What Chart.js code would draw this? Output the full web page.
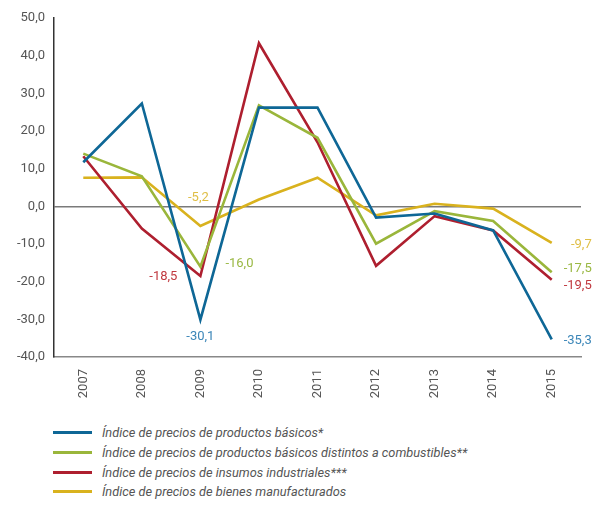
<!DOCTYPE html>
<html>
<head>
<meta charset="utf-8">
<script src="https://cdn.jsdelivr.net/npm/chart.js@4/dist/chart.umd.min.js"></script>
<style>
  body { margin: 0; background: #fff; }
  #wrap { position: relative; width: 602px; height: 400px; }
  #legend { position: absolute; left: 53px; top: 423px; font-family: Roboto, sans-serif; font-style: italic; font-size: 12.8px; color: #555; }
  #legend div { height: 19.7px; display: flex; align-items: center; }
  #legend span.sw { display: inline-block; width: 39px; height: 3px; margin-right: 10px; }
</style>
</head>
<body>
<div id="wrap"><canvas id="myChart"></canvas></div>
<div id="legend"></div>
<script>
var years = ['2007', '2008', '2009', '2010', '2011', '2012', '2013', '2014', '2015'];
var basicos = [11.7, 27.3, -30.1, 26.2, 26.2, -3.0, -1.9, -6.4, -35.3];
var noCombustibles = [14.0, 8.0, -16.0, 26.8, 18.2, -9.9, -1.3, -3.9, -17.5];
var insumos = [13.3, -5.9, -18.5, 43.3, 17.0, -15.8, -2.6, -6.4, -19.5];
var manufacturados = [7.6, 7.7, -5.2, 1.8, 7.6, -2.4, 0.7, -0.6, -9.7];
var yTicks = [50, 40, 30, 20, 10, 0, -10, -20, -30, -40];

var textColor = '#555';
var fontFamily = 'Roboto, sans-serif';

function fmt(v) {
    return v.toFixed(1).replace('.', ',');
}

// which points get a value label, and where it sits next to the point
var pointLabels = [
    { ds: 3, i: 2, dx: -2, dy: -28, align: 'center' },
    { ds: 2, i: 2, dx: -23, dy: 1, align: 'right' },
    { ds: 1, i: 2, dx: 25, dy: -3, align: 'left' },
    { ds: 0, i: 2, dx: 0, dy: 17, align: 'center' },
    { ds: 3, i: 8, dx: 40, dy: 2, align: 'right' },
    { ds: 1, i: 8, dx: 40, dy: -4, align: 'right' },
    { ds: 2, i: 8, dx: 40, dy: 6, align: 'right' },
    { ds: 0, i: 8, dx: 40, dy: 1, align: 'right' }
];

var labelPlugin = {
    id: 'pointLabels',
    afterDatasetsDraw: function (chart) {
        var c = chart.ctx;
        c.save();
        c.font = '13px ' + fontFamily;
        c.textBaseline = 'middle';
        pointLabels.forEach(function (l) {
            var ds = chart.data.datasets[l.ds];
            var pt = chart.getDatasetMeta(l.ds).data[l.i];
            c.fillStyle = ds.labelColor;
            c.textAlign = l.align;
            c.fillText(fmt(ds.data[l.i]), pt.x + l.dx, pt.y + l.dy);
        });
        c.restore();
    }
};

var ctx = document.getElementById('myChart');

var chart = new Chart(ctx, {
    type: 'line',
    data: {
        labels: years,
        datasets: [{
            label: 'Índice de precios de productos básicos*',
            data: basicos,
            borderColor: '#0e6796',
            labelColor: '#3b86b8'
        }, {
            label: 'Índice de precios de productos básicos distintos a combustibles**',
            data: noCombustibles,
            borderColor: '#9ab63b',
            labelColor: '#9ab843'
        }, {
            label: 'Índice de precios de insumos industriales***',
            data: insumos,
            borderColor: '#ae1f2f',
            labelColor: '#c0393f'
        }, {
            label: 'Índice de precios de bienes manufacturados',
            data: manufacturados,
            borderColor: '#d9b21e',
            labelColor: '#dfbe45'
        }]
    },
    options: {
        responsive: true,
        maintainAspectRatio: false,
        animation: false,
        layout: { padding: { top: 18, right: 21 } },
        elements: {
            line: { borderWidth: 2.6, tension: 0, fill: false },
            point: { radius: 0, hoverRadius: 0 }
        },
        scales: {
            x: {
                offset: true,
                grid: { display: false },
                border: { color: '#888', width: 1.5 },
                ticks: {
                    color: textColor,
                    font: { family: fontFamily, size: 13 },
                    maxRotation: 90,
                    minRotation: 90,
                    padding: 4
                },
                afterFit: function (scale) { scale.height = 43; }
            },
            y: {
                min: -40,
                max: 50,
                afterBuildTicks: function (scale) {
                    scale.ticks = yTicks.map(function (v) { return { value: v }; });
                },
                grid: {
                    drawTicks: false,
                    color: function (c) { return c.tick && c.tick.value === 0 ? '#7a7a7a' : 'rgba(0,0,0,0)'; },
                    lineWidth: 1.5
                },
                border: { color: '#333', width: 1.5 },
                ticks: {
                    color: textColor,
                    font: { family: fontFamily, size: 13 },
                    padding: 9,
                    callback: function (v) { return fmt(v); }
                },
                afterFit: function (scale) { scale.width = 54; }
            }
        },
        plugins: {
            legend: { display: false },
            tooltip: { enabled: false }
        }
    },
    plugins: [labelPlugin]
});

// vertical legend under the chart
var legend = document.getElementById('legend');
chart.data.datasets.forEach(function (ds) {
    var row = document.createElement('div');
    var sw = document.createElement('span');
    sw.className = 'sw';
    sw.style.background = ds.borderColor;
    row.appendChild(sw);
    row.appendChild(document.createTextNode(ds.label));
    legend.appendChild(row);
});
</script>
</body>
</html>
